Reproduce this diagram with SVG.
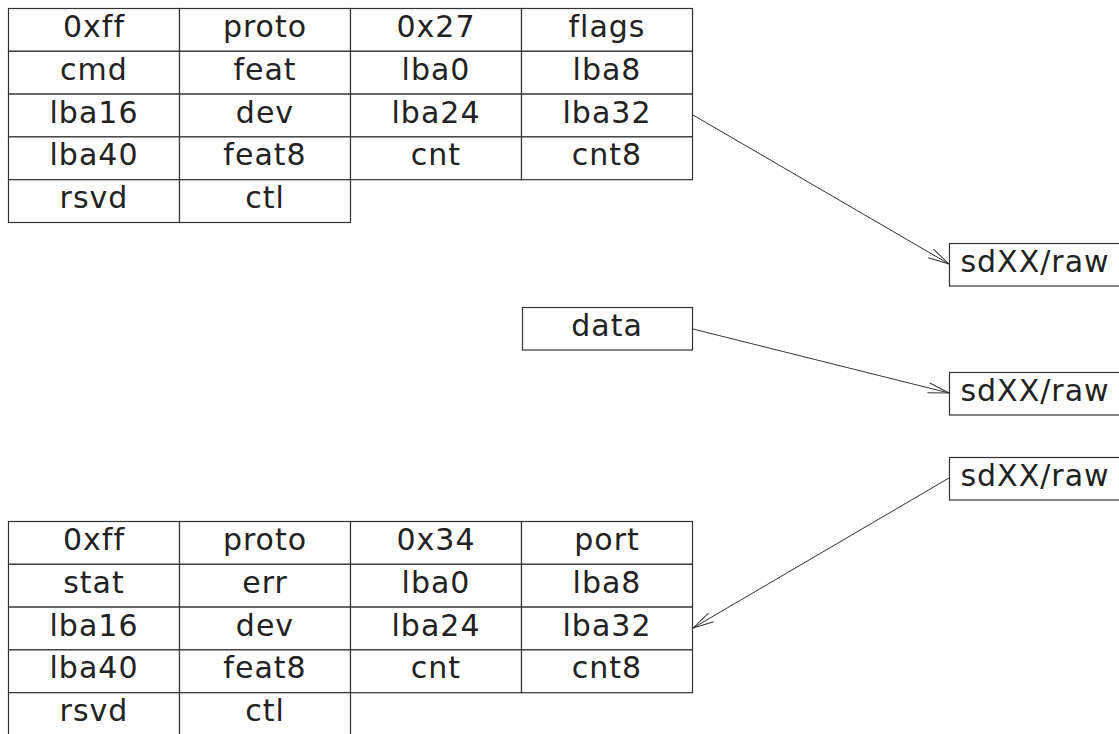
<svg xmlns="http://www.w3.org/2000/svg" width="1119" height="734" viewBox="0 0 1119 734">
<style>
.c{fill:#fff;stroke:#333;stroke-width:1.2}
.t{font-family:"DejaVu Sans",sans-serif;font-size:30px;fill:#222;text-anchor:middle;letter-spacing:1px}
.e{fill:none;stroke:#333;stroke-width:1}
</style>
<defs>
<marker id="ah" markerUnits="userSpaceOnUse" markerWidth="30" markerHeight="20" viewBox="-22 -10 24 20" refX="0" refY="0" orient="auto" overflow="visible">
<path d="M-21,-5 L0,0 L-21,5" fill="none" stroke="#333" stroke-width="1"/>
</marker>
</defs>
<rect width="1119" height="734" fill="#fff"/>
<g id="table-top">
<rect class="c" x="8.5" y="8.5" width="171" height="42.8"/><text class="t" x="94" y="37">0xff</text>
<rect class="c" x="179.5" y="8.5" width="171" height="42.8"/><text class="t" x="265" y="37">proto</text>
<rect class="c" x="350.5" y="8.5" width="171" height="42.8"/><text class="t" x="436" y="37">0x27</text>
<rect class="c" x="521.5" y="8.5" width="171" height="42.8"/><text class="t" x="607" y="37">flags</text>
<rect class="c" x="8.5" y="51.3" width="171" height="42.8"/><text class="t" x="94" y="80">cmd</text>
<rect class="c" x="179.5" y="51.3" width="171" height="42.8"/><text class="t" x="265" y="80">feat</text>
<rect class="c" x="350.5" y="51.3" width="171" height="42.8"/><text class="t" x="436" y="80">lba0</text>
<rect class="c" x="521.5" y="51.3" width="171" height="42.8"/><text class="t" x="607" y="80">lba8</text>
<rect class="c" x="8.5" y="94.1" width="171" height="42.8"/><text class="t" x="94" y="123">lba16</text>
<rect class="c" x="179.5" y="94.1" width="171" height="42.8"/><text class="t" x="265" y="123">dev</text>
<rect class="c" x="350.5" y="94.1" width="171" height="42.8"/><text class="t" x="436" y="123">lba24</text>
<rect class="c" x="521.5" y="94.1" width="171" height="42.8"/><text class="t" x="607" y="123">lba32</text>
<rect class="c" x="8.5" y="136.9" width="171" height="42.8"/><text class="t" x="94" y="165">lba40</text>
<rect class="c" x="179.5" y="136.9" width="171" height="42.8"/><text class="t" x="265" y="165">feat8</text>
<rect class="c" x="350.5" y="136.9" width="171" height="42.8"/><text class="t" x="436" y="165">cnt</text>
<rect class="c" x="521.5" y="136.9" width="171" height="42.8"/><text class="t" x="607" y="165">cnt8</text>
<rect class="c" x="8.5" y="179.7" width="171" height="42.8"/><text class="t" x="94" y="208">rsvd</text>
<rect class="c" x="179.5" y="179.7" width="171" height="42.8"/><text class="t" x="265" y="208">ctl</text>
</g>
<g id="table-bottom">
<rect class="c" x="8.5" y="521.5" width="171" height="42.8"/><text class="t" x="94" y="550">0xff</text>
<rect class="c" x="179.5" y="521.5" width="171" height="42.8"/><text class="t" x="265" y="550">proto</text>
<rect class="c" x="350.5" y="521.5" width="171" height="42.8"/><text class="t" x="436" y="550">0x34</text>
<rect class="c" x="521.5" y="521.5" width="171" height="42.8"/><text class="t" x="607" y="550">port</text>
<rect class="c" x="8.5" y="564.3" width="171" height="42.8"/><text class="t" x="94" y="593">stat</text>
<rect class="c" x="179.5" y="564.3" width="171" height="42.8"/><text class="t" x="265" y="593">err</text>
<rect class="c" x="350.5" y="564.3" width="171" height="42.8"/><text class="t" x="436" y="593">lba0</text>
<rect class="c" x="521.5" y="564.3" width="171" height="42.8"/><text class="t" x="607" y="593">lba8</text>
<rect class="c" x="8.5" y="607.1" width="171" height="42.8"/><text class="t" x="94" y="636">lba16</text>
<rect class="c" x="179.5" y="607.1" width="171" height="42.8"/><text class="t" x="265" y="636">dev</text>
<rect class="c" x="350.5" y="607.1" width="171" height="42.8"/><text class="t" x="436" y="636">lba24</text>
<rect class="c" x="521.5" y="607.1" width="171" height="42.8"/><text class="t" x="607" y="636">lba32</text>
<rect class="c" x="8.5" y="649.9" width="171" height="42.8"/><text class="t" x="94" y="678">lba40</text>
<rect class="c" x="179.5" y="649.9" width="171" height="42.8"/><text class="t" x="265" y="678">feat8</text>
<rect class="c" x="350.5" y="649.9" width="171" height="42.8"/><text class="t" x="436" y="678">cnt</text>
<rect class="c" x="521.5" y="649.9" width="171" height="42.8"/><text class="t" x="607" y="678">cnt8</text>
<rect class="c" x="8.5" y="692.7" width="171" height="42.8"/><text class="t" x="94" y="721">rsvd</text>
<rect class="c" x="179.5" y="692.7" width="171" height="42.8"/><text class="t" x="265" y="721">ctl</text>
</g>
<g id="data">
<rect class="c" x="522.5" y="307.5" width="170" height="42.5"/><text class="t" x="607" y="336">data</text>
</g>
<g id="raw1">
<rect class="c" x="949.5" y="243.5" width="171" height="42.5"/><text class="t" x="1035" y="272">sdXX/raw</text>
</g>
<g id="raw2">
<rect class="c" x="949.5" y="372.5" width="171" height="42.5"/><text class="t" x="1035" y="401">sdXX/raw</text>
</g>
<g id="raw3">
<rect class="c" x="949.5" y="457.5" width="171" height="42.5"/><text class="t" x="1035" y="486">sdXX/raw</text>
</g>
<g id="connectors">
<path class="e" d="M693,115 L949,264" marker-end="url(#ah)"/>
<path class="e" d="M693,329 L949,393" marker-end="url(#ah)"/>
<path class="e" d="M949,478 L693,628" marker-end="url(#ah)"/>
</g>
</svg>
